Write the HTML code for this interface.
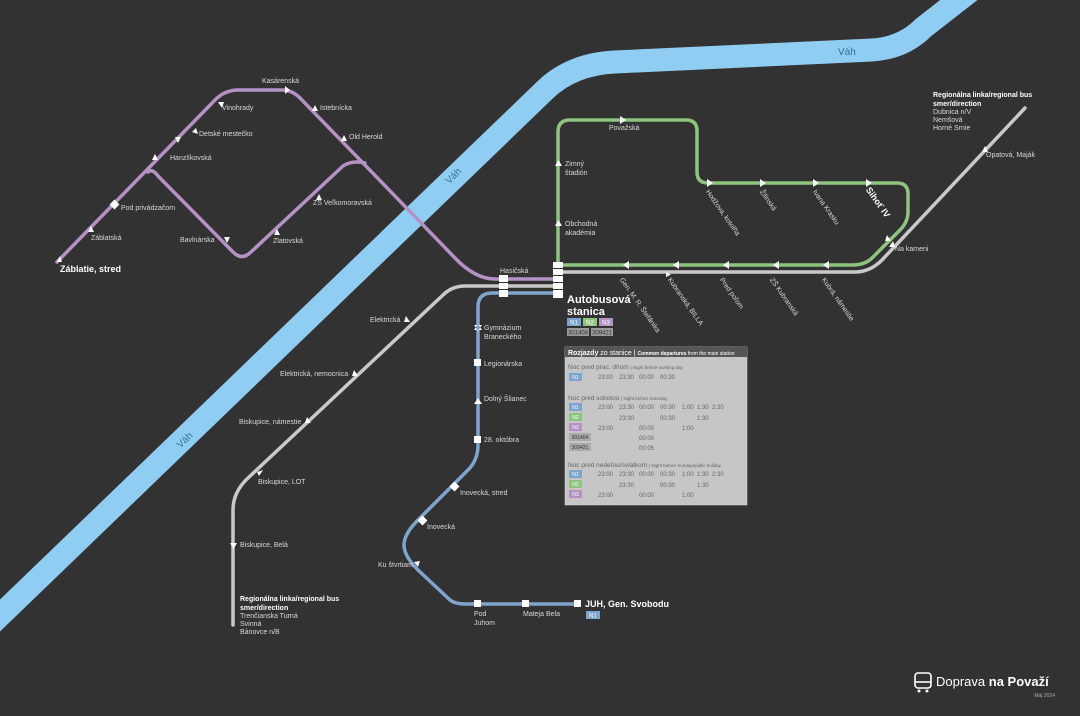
<!DOCTYPE html>
<html><head><meta charset="utf-8"><style>
html,body{margin:0;padding:0;background:#323232;}
svg{display:block;font-family:"Liberation Sans",sans-serif;}
</style></head><body>
<svg width="1080" height="716" viewBox="0 0 1080 716" xmlns="http://www.w3.org/2000/svg">
<rect width="1080" height="716" fill="#323232"/>
<path d="M-15,630 L545,90 Q572,64 615,62 L872,50 Q903,48 923,28 L978,-15" fill="none" stroke="#8fcdf2" stroke-width="23"/>
<text x="838" y="55" font-size="10" fill="#3a6f95">Váh</text>
<text x="445" y="182" font-size="10" fill="#3a6f95" transform="rotate(-44 450 178)">Váh</text>
<text x="175" y="445" font-size="10" fill="#3a6f95" transform="rotate(-44 182 440)">Váh</text>

<g fill="none" stroke-linecap="round" stroke-linejoin="round">
<path d="M558,286 L465,286 Q452,286 443,295 L248,478 Q233,492 233,510 L233,625" stroke="#c9c9c9" stroke-width="3.5"/>
<path d="M558,272 L855,272 Q870,272 882,260 L1025,108" stroke="#c9c9c9" stroke-width="3.5"/>
<path d="M558,268 L558,132 Q558,120 570,120 L686,120 Q697,120 697,131 L697,172 Q697,183 708,183 L897,183 Q908,183 908,194 L908,212 Q908,222 900,230 L872,258 Q865,265 852,265 L558,265" stroke="#8fc47f" stroke-width="3.5"/>
<path d="M57,262 L215,100 Q225,90 238,90 L282,90 Q292,90 300,98 L455,258 Q475,279 495,279 L558,279" stroke="#b493c4" stroke-width="3.5"/>
<path d="M148,172 Q152,168 158,176 L233,252 Q242,261 251,252 L343,166 Q352,160 365,163" stroke="#b493c4" stroke-width="3.5"/>
<path d="M558,293 L492,293 Q478,293 478,307 L478,445 Q478,460 468,470 L418,520 Q404,534 404,545 Q404,556 418,570 L450,600 Q455,604 465,604 L578,604" stroke="#7ea5cc" stroke-width="3.5"/>
</g>

<rect x="553" y="262" width="10" height="36" fill="#fff"/>
<g stroke="#323232" stroke-width="1"><line x1="553" y1="268.5" x2="563" y2="268.5"/><line x1="553" y1="275.5" x2="563" y2="275.5"/><line x1="553" y1="282.5" x2="563" y2="282.5"/><line x1="553" y1="289.5" x2="563" y2="289.5"/></g>
<rect x="499" y="275" width="9" height="22" fill="#fff"/>
<g stroke="#323232" stroke-width="1"><line x1="499" y1="282.5" x2="508" y2="282.5"/><line x1="499" y1="289.5" x2="508" y2="289.5"/></g>

<g fill="#fff">
<rect x="474" y="359" width="7" height="7"/><rect x="474" y="436" width="7" height="7"/>
<rect x="474" y="600" width="7" height="7"/><rect x="522" y="600" width="7" height="7"/><rect x="574" y="600" width="7" height="7"/>
<rect x="451" y="483" width="7" height="7" transform="rotate(45 454.5 486.5)"/>
<rect x="419" y="517" width="7" height="7" transform="rotate(45 422.5 520.5)"/>
<rect x="111" y="201" width="7" height="7" transform="rotate(45 114.5 204.5)"/>
<path d="M474,330 l8,0 l-4,-6z M474,325 l8,0 l-4,6z"/>
<path d="M474,404 l8,0 l-4,-6z M414,562 l6,-1 l-2,6z"/>
<path d="M230,543 l7,0 l-3.5,6z"/>
<path d="M257,472 l6,-2 l-4,6z M305,423 l6,0 l-4,-6z M352,376 l6,0 l-4,-6z M404,322 l6,0 l-4,-6z"/>
<path d="M555,166 l7,0 l-3.5,-6z M555,226 l7,0 l-3.5,-6z M620,116 l0,8 l6,-4z"/>
<path d="M707,179 l0,8 l6,-4z M760,179 l0,8 l6,-4z M813,179 l0,8 l6,-4z M866,179 l0,8 l6,-4z"/>
<path d="M623,265 l6,-4 l0,8z M673,265 l6,-4 l0,8z M723,265 l6,-4 l0,8z M773,265 l6,-4 l0,8z M823,265 l6,-4 l0,8z"/>
<path d="M666,272 l0,5 l5,-2.5z M885,241 l6,0 l-4,-6z M889,247 l6,0 l-2,-6z M982,152 l6,0 l-3,-6z"/>
<path d="M57,262 l5,0 l-2,-6z M88,232 l6,0 l-3,-6z M192,132 l6,2 l-2,-6z M218,102 l6,0 l-2,6z M290,90 l-5,-4 l0,8z M312,111 l6,0 l-3,-6z M341,141 l6,0 l-3,-6z M316,200 l6,0 l-3,-6z M274,235 l6,0 l-3,-6z M224,237 l6,0 l-3,6z M152,160 l6,0 l-3,-6z M175,137 l6,0 l-3,6z"/>
</g>

<g font-size="7" fill="#d8d8d8">
<text x="262" y="83">Kasárenská</text>
<text x="222" y="110">Vinohrady</text>
<text x="199" y="136">Detské mestečko</text>
<text x="170" y="160">Hanzlíkovská</text>
<text x="121" y="210">Pod privádzačom</text>
<text x="91" y="240">Záblatská</text>
<text x="320" y="110">Istebnícka</text>
<text x="349" y="139">Old Herold</text>
<text x="313" y="205">ZŠ Veľkomoravská</text>
<text x="180" y="242">Bavlnárska</text>
<text x="273" y="243">Zlatovská</text>
<text x="500" y="273">Hasičská</text>
<text x="370" y="322">Elektrická</text>
<text x="280" y="376">Elektrická, nemocnica</text>
<text x="239" y="424">Biskupice, námestie</text>
<text x="258" y="484">Biskupice, LOT</text>
<text x="240" y="547">Biskupice, Belá</text>
<text x="484" y="330">Gymnázium</text><text x="484" y="339">Braneckého</text>
<text x="484" y="366">Legionárska</text>
<text x="484" y="401">Dolný Šlianec</text>
<text x="484" y="442">28. októbra</text>
<text x="460" y="495">Inovecká, stred</text>
<text x="427" y="529">Inovecká</text>
<text x="378" y="567">Ku štvrtiam</text>
<text x="474" y="616">Pod</text><text x="474" y="625">Juhom</text>
<text x="523" y="616">Mateja Bela</text>
<text x="565" y="166">Zimný</text><text x="565" y="175">štadión</text>
<text x="565" y="226">Obchodná</text><text x="565" y="235">akadémia</text>
<text x="609" y="130">Považská</text>
<text x="895" y="251">Na kameni</text>
<text x="986" y="157">Opatová, Maják</text>
<g transform="rotate(55 708 190)"><text x="708" y="193">Hodžova, kotolňa</text></g>
<g transform="rotate(55 762 190)"><text x="762" y="193">Žilinská</text></g>
<g transform="rotate(55 815 190)"><text x="815" y="193">Ivana Krasku</text></g>
<g transform="rotate(55 868 188)"><text x="868" y="191" font-size="9" font-weight="bold" fill="#fff">Sihoť IV</text></g>
<g transform="rotate(55 622 278)"><text x="622" y="281">Gen. M. R. Štefánika</text></g>
<g transform="rotate(55 670 278)"><text x="670" y="281">Kubranská, BILLA</text></g>
<g transform="rotate(55 722 278)"><text x="722" y="281">Pred poľom</text></g>
<g transform="rotate(55 772 278)"><text x="772" y="281">ZŠ Kubranská</text></g>
<g transform="rotate(55 824 278)"><text x="824" y="281">Kubrá, námestie</text></g>
<text x="240" y="601" font-weight="bold" fill="#fff">Regionálna linka/regional bus</text>
<text x="240" y="610" font-weight="bold" fill="#fff">smer/direction</text>
<text x="240" y="618">Trenčianska Turná</text><text x="240" y="626">Svinná</text><text x="240" y="634">Bánovce n/B</text>
<text x="933" y="97" font-weight="bold" fill="#fff">Regionálna linka/regional bus</text>
<text x="933" y="106" font-weight="bold" fill="#fff">smer/direction</text>
<text x="933" y="114">Dubnica n/V</text><text x="933" y="122">Nemšová</text><text x="933" y="130">Horné Srnie</text>
</g>
<text x="60" y="272" font-size="9" font-weight="bold" fill="#fff">Záblatie, stred</text>
<text x="567" y="303" font-size="11" font-weight="bold" fill="#fff">Autobusová</text>
<text x="567" y="315" font-size="11" font-weight="bold" fill="#fff">stanica</text>
<text x="585" y="607" font-size="9" font-weight="bold" fill="#fff">JUH, Gen. Svobodu</text>

<g font-size="6" text-anchor="middle" fill="#fff">
<rect x="567" y="318" width="14" height="8" fill="#7ea5cc"/><text x="574" y="324.5">N1</text>
<rect x="583" y="318" width="14" height="8" fill="#8fc47f"/><text x="590" y="324.5">N2</text>
<rect x="599" y="318" width="14" height="8" fill="#b493c4"/><text x="606" y="324.5">N3</text>
<rect x="567" y="328" width="22" height="8" fill="#9a9a9a"/><text x="578" y="334.5" fill="#333">301404</text>
<rect x="591" y="328" width="22" height="8" fill="#9a9a9a"/><text x="602" y="334.5" fill="#333">309421</text>
<rect x="586" y="611" width="14" height="8" fill="#7ea5cc"/><text x="593" y="617.5">N1</text>
</g>

<rect x="565" y="347" width="182" height="158" fill="#c6c6c6" stroke="#e0e0e0" stroke-width="0.5"/>
<rect x="565" y="347" width="182" height="10" fill="#555"/>
<text x="568" y="355" font-size="7" fill="#fff"><tspan font-weight="bold">Rozjazdy</tspan> zo stanice | <tspan font-size="5" font-weight="bold">Common departures</tspan><tspan font-size="5"> from the main station</tspan></text>
<g font-size="6.5" fill="#666">
<text x="568" y="369">Noc pred prac. dňom <tspan font-size="4.5">| Night before working day</tspan></text>
<text x="568" y="400">Noc pred sobotou <tspan font-size="4.5">| Night before Saturday</tspan></text>
<text x="568" y="467">Noc pred nedeľou/sviatkom <tspan font-size="4.5">| Night before Sunday/public holiday</tspan></text>
<g font-size="6">
<text x="598" y="379">23:00</text><text x="619" y="379">23:30</text><text x="639" y="379">00:00</text><text x="660" y="379">00:30</text>
<text x="598" y="409">23:00</text><text x="619" y="409">23:30</text><text x="639" y="409">00:00</text><text x="660" y="409">00:30</text><text x="682" y="409">1:00</text><text x="697" y="409">1:30</text><text x="712" y="409">2:30</text>
<text x="619" y="420">23:30</text><text x="660" y="420">00:30</text><text x="697" y="420">1:30</text>
<text x="598" y="430">23:00</text><text x="639" y="430">00:00</text><text x="682" y="430">1:00</text>
<text x="639" y="440">00:00</text><text x="639" y="450">00:05</text>
<text x="598" y="476">23:00</text><text x="619" y="476">23:30</text><text x="639" y="476">00:00</text><text x="660" y="476">00:30</text><text x="682" y="476">1:00</text><text x="697" y="476">1:30</text><text x="712" y="476">2:30</text>
<text x="619" y="487">23:30</text><text x="660" y="487">00:30</text><text x="697" y="487">1:30</text>
<text x="598" y="497">23:00</text><text x="639" y="497">00:00</text><text x="682" y="497">1:00</text>
</g>
</g>
<g font-size="5" text-anchor="middle" fill="#fff">
<rect x="569" y="373" width="13" height="8" fill="#7ea5cc"/><text x="575.5" y="379">N1</text>
<rect x="569" y="403" width="13" height="8" fill="#7ea5cc"/><text x="575.5" y="409">N1</text>
<rect x="569" y="413" width="13" height="8" fill="#8fc47f"/><text x="575.5" y="419">N2</text>
<rect x="569" y="423" width="13" height="8" fill="#b493c4"/><text x="575.5" y="429">N3</text>
<rect x="569" y="433" width="22" height="8" fill="#aaa"/><text x="580" y="439" fill="#333">301404</text>
<rect x="569" y="443" width="22" height="8" fill="#aaa"/><text x="580" y="449" fill="#333">309421</text>
<rect x="569" y="470" width="13" height="8" fill="#7ea5cc"/><text x="575.5" y="476">N1</text>
<rect x="569" y="480" width="13" height="8" fill="#8fc47f"/><text x="575.5" y="486">N2</text>
<rect x="569" y="490" width="13" height="8" fill="#b493c4"/><text x="575.5" y="496">N3</text>
</g>

<g fill="none" stroke="#fff" stroke-width="1.6">
<rect x="915" y="673" width="16" height="15" rx="3"/>
<line x1="915" y1="682" x2="931" y2="682"/>
</g>
<circle cx="919" cy="691" r="1.5" fill="#fff"/><circle cx="927" cy="691" r="1.5" fill="#fff"/>
<text x="936" y="686" font-size="13" fill="#fff">Doprava <tspan font-weight="bold">na Považí</tspan></text>
<text x="1055" y="697" font-size="5" fill="#aaa" text-anchor="end">Máj 2024</text>
</svg>
</body></html>
